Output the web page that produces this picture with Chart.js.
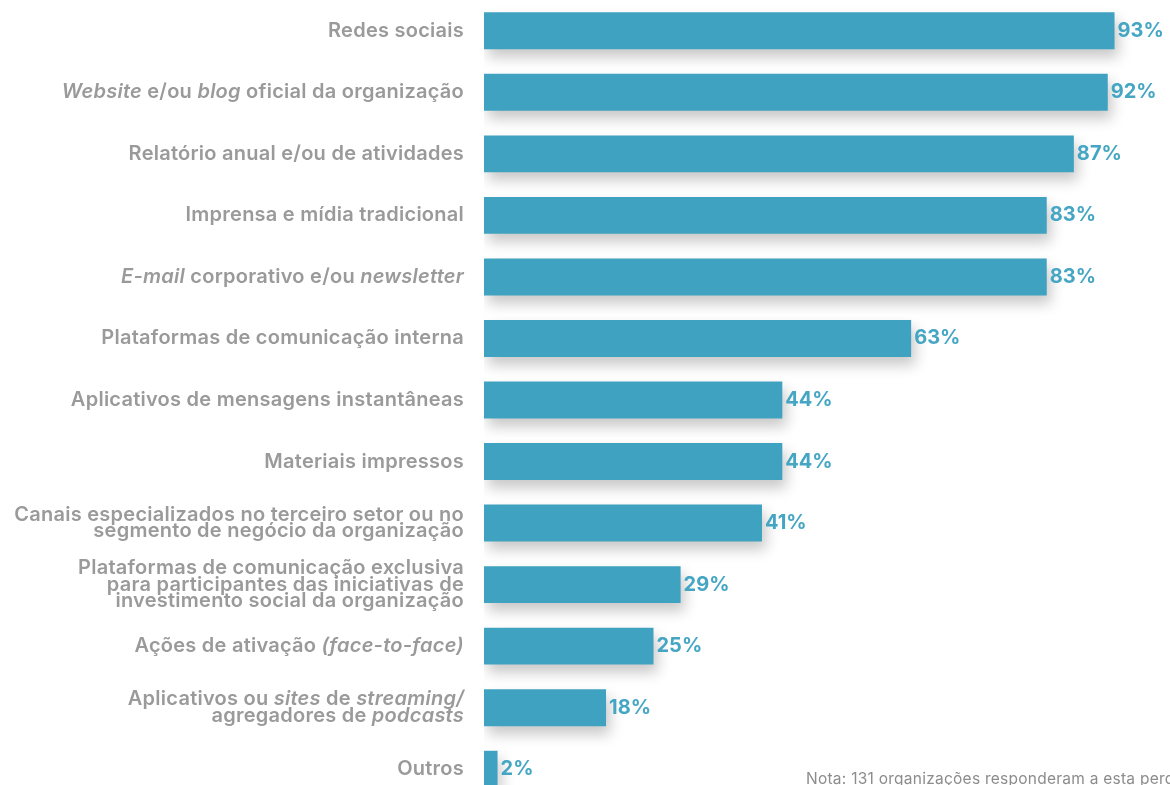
<!DOCTYPE html>
<html lang="pt">
<head>
<meta charset="utf-8">
<script src="https://cdn.jsdelivr.net/npm/chart.js@4"></script>
<style>
    html, body { margin: 0; padding: 0; background: #fff; overflow: hidden; }
    #wrap { position: relative; width: 1170px; height: 800px; }
    #nota {
        position: absolute; left: 806px; top: 769px;
        font: 400 15.5px Inter, sans-serif; color: #8c8c8c;
        letter-spacing: 0.25px;
        white-space: nowrap;
    }
</style>
</head>
<body>
<div id="wrap">
    <canvas id="barChartCanais"></canvas>
    <div id="nota">Nota: 131 organizações responderam a esta pergunta.</div>
</div>
<script>
// *texto* = itálico, \n = quebra de linha
const categorias = [
    'Redes sociais',
    '*Website* e/ou *blog* oficial da organização',
    'Relatório anual e/ou de atividades',
    'Imprensa e mídia tradicional',
    '*E-mail* corporativo e/ou *newsletter*',
    'Plataformas de comunicação interna',
    'Aplicativos de mensagens instantâneas',
    'Materiais impressos',
    'Canais especializados no terceiro setor ou no\nsegmento de negócio da organização',
    'Plataformas de comunicação exclusiva\npara participantes das iniciativas de\ninvestimento social da organização',
    'Ações de ativação *(face-to-face)*',
    'Aplicativos ou *sites* de *streaming/*\nagregadores de *podcasts*',
    'Outros',
];
const percentuais = [93, 92, 87, 83, 83, 63, 44, 44, 41, 29, 25, 18, 2];

const corBarra  = '#3fa2c1';
const corValor  = '#45a6c4';
const corLabel  = '#9a9a9a';

// sombra suave sob as barras
const sombraBarras = {
    id: 'sombraBarras',
    beforeDatasetsDraw(chart) {
        const ctx = chart.ctx;
        ctx.save();
        ctx.shadowColor = 'rgba(0, 0, 0, 0.22)';
        ctx.shadowBlur = 14;
        ctx.shadowOffsetX = 4;
        ctx.shadowOffsetY = 8;
    },
    afterDatasetsDraw(chart) {
        chart.ctx.restore();
    }
};

// rótulos das categorias com trechos em itálico
const rotulosCategorias = {
    id: 'rotulosCategorias',
    afterDraw(chart) {
        const ctx = chart.ctx;
        const y = chart.scales.y;
        const xDir = chart.chartArea.left - 20;
        const altLinha = 16.5;
        ctx.save();
        ctx.fillStyle = corLabel;
        ctx.textBaseline = 'middle';
        ctx.textAlign = 'left';
        ctx.letterSpacing = '0.25px';
        categorias.forEach((cat, i) => {
            const linhas = cat.split('\n');
            const yc = y.getPixelForValue(i);
            linhas.forEach((linha, j) => {
                const ly = yc + (j - (linhas.length - 1) / 2) * altLinha;
                const partes = linha.split('*');
                const fontes = partes.map((p, k) =>
                    (k % 2 ? 'italic ' : '') + '600 20px Inter, sans-serif');
                let total = 0;
                partes.forEach((p, k) => { ctx.font = fontes[k]; total += ctx.measureText(p).width; });
                let x = xDir - total;
                partes.forEach((p, k) => {
                    ctx.font = fontes[k];
                    ctx.fillText(p, x, ly);
                    x += ctx.measureText(p).width;
                });
            });
        });
        ctx.restore();
    }
};

// valores no fim das barras
const rotulosValores = {
    id: 'rotulosValores',
    afterDraw(chart) {
        const ctx = chart.ctx;
        const meta = chart.getDatasetMeta(0);
        ctx.save();
        ctx.font = '700 20px Inter, sans-serif';
        ctx.fillStyle = corValor;
        ctx.textBaseline = 'middle';
        ctx.textAlign = 'left';
        meta.data.forEach((bar, i) => {
            ctx.fillText(percentuais[i] + '%', bar.x + 3, bar.y);
        });
        ctx.restore();
    }
};

new Chart(document.getElementById('barChartCanais'), {
    type: 'bar',
    data: {
        labels: categorias,
        datasets: [{
            label: 'Canais de comunicação',
            data: percentuais,
            backgroundColor: corBarra,
            borderWidth: 0,
            barPercentage: 0.75,
            categoryPercentage: 0.8,
        }]
    },
    options: {
        indexAxis: 'y',
        responsive: true,
        maintainAspectRatio: false,
        animation: false,
        layout: { padding: { left: 484, right: 8, top: 0, bottom: 0 } },
        scales: {
            x: { display: false, min: 0, max: 100 },
            y: { display: false }
        },
        plugins: {
            legend: { display: false },
            title: { display: false },
            tooltip: { enabled: false }
        }
    },
    plugins: [sombraBarras, rotulosCategorias, rotulosValores]
});
</script>
</body>
</html>
